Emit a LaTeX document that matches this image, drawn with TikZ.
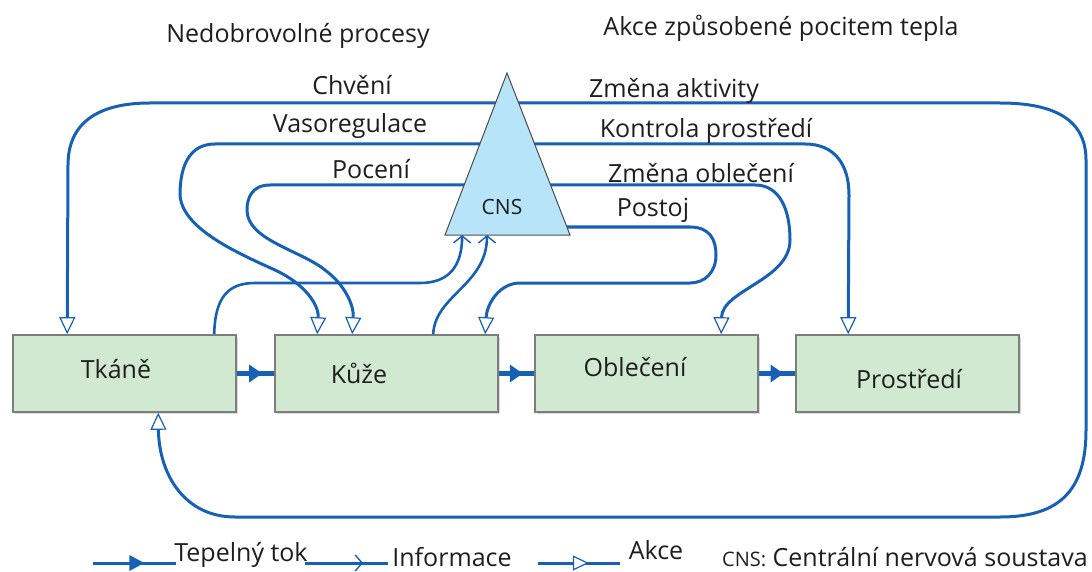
\documentclass[tikz,border=0pt]{standalone}
\usepackage{fontspec}
\setmainfont{Open Sans}
\usetikzlibrary{arrows.meta,decorations.markings,calc,shadows}
\definecolor{flow}{RGB}{22,96,182}
\definecolor{boxfill}{RGB}{209,233,209}
\definecolor{boxline}{RGB}{125,125,125}
\definecolor{cnsfill}{RGB}{183,228,249}
\definecolor{ink}{RGB}{30,30,30}
\begin{document}
\begin{tikzpicture}[x=1pt,y=-1pt,
  txt/.style={text=ink, font=\fontsize{25}{29}\selectfont, inner sep=0pt},
  small/.style={text=ink, font=\fontsize{21}{25}\selectfont, inner sep=0pt},
  stage/.style={draw=boxline, fill=boxfill, line width=1.6pt,
    minimum width=223pt, minimum height=77pt, inner sep=0pt,
    drop shadow={shadow xshift=1.5pt, shadow yshift=-2pt, fill=black!25, opacity=0.6}},
  conn/.style={draw=flow, line width=3pt},
  akcetip/.style={-{Triangle[fill=white, length=17pt, width=16pt, line width=1.2pt]}},
  akce/.style={conn, akcetip},
  info/.style={conn, line width=2.6pt, -{Straight Barb[length=7pt, width=17pt, line width=1.4pt]}},
  heat/.style={draw=flow, line width=5pt, postaction={decorate},
    decoration={markings, mark=at position #1 with {\arrow{Triangle[length=13pt,width=17pt]}}}},
  heat/.default=0.68,
  legheat/.style={draw=flow, line width=3pt, postaction={decorate},
    decoration={markings, mark=at position 0.62 with {\arrow{Triangle[length=15pt,width=15pt]}}}},
  leginfo/.style={draw=flow, line width=3pt, postaction={decorate},
    decoration={markings, mark=at position 0.7 with {\arrow{Straight Barb[length=7pt,width=16pt,line width=1.4pt]}}}},
  legakce/.style={draw=flow, line width=3pt, postaction={decorate},
    decoration={markings, mark=at position 0.62 with {\arrow{Triangle[fill=white,length=16pt,width=15pt,line width=1.2pt]}}}},
]
\useasboundingbox (0,0) rectangle (1092,572);

% stages of the heat path
\node[stage] (tk) at (124.5,373.5) {};
\node[stage] (ku) at (386.5,373.5) {};
\node[stage] (ob) at (646.5,373.5) {};
\node[stage] (pr) at (907.5,373.5) {};
\node[txt] (tkl) at (116,369) {Tkáně};
\node[txt] (kul) at (359,373) {Kůže};
\node[txt] (obl) at (635,367) {Oblečení};
\node[txt] (prl) at (909,379) {Prostředí};

% heat flow between stages
\draw[heat] (tk.east) -- (ku.west);
\draw[heat] (ku.east) -- (ob.west);
\draw[heat] (ob.east) -- (pr.west);

% CNS corners and the points where the control lines leave it
\coordinate (cA) at (507,73);
\coordinate (cL) at (445,235);
\coordinate (cR) at (570,235);
\coordinate (hub1) at (507,103);
\coordinate (hub2) at (507,144);
\coordinate (hub3) at (507,185);
\coordinate (hub4) at (507,227);

% involuntary actions (left)
\draw[akce] (hub1) -- (150,103) .. controls (95,103) and (68,125) .. (68,165)
  -- ($(tk.north west)+(55,0)$);
\draw[akce] (hub2) -- (215,144) .. controls (190,144) and (180,165) .. (180,195)
  .. controls (182,228) and (235,252) .. (275,270)
  .. controls (305,284) and (319,305) .. ($(ku.north west)+(43,0)$);
\draw[akce] (hub3) -- (270,185) .. controls (252,185) and (247,198) .. (247,210)
  .. controls (247,240) and (300,250) .. (325,270)
  .. controls (345,285) and (354,305) .. ($(ku.north west)+(78,0)$);

% behavioural actions (right)
\draw[akce] (hub1) -- (1000,103) .. controls (1055,103) and (1086,120) .. (1086,160)
  -- (1086,430) .. controls (1086,490) and (1060,517) .. (1000,517)
  -- (235,517) .. controls (185,517) and (159,475) .. ($(tk.south west)+(146,0)$);
\draw[akce] (hub2) -- (805,144) .. controls (835,144) and (849,165) .. (849,195)
  -- ($(pr.north west)+(53,0)$);
\draw[akce] (hub3) -- (755,185) .. controls (780,185) and (790,210) .. (790,240)
  .. controls (790,280) and (722,290) .. ($(ob.north west)+(187,0)$);
\draw[akce] (hub4) -- (690,227) .. controls (710,227) and (716,240) .. (716,255)
  .. controls (716,272) and (705,283) .. (690,283)
  -- (520,283) .. controls (500,283) and (487,303) .. ($(ku.north west)+(211,0)$);

% temperature information to the CNS
\draw[info] ($(tk.north west)+(202,0)$) .. controls (215,295) and (230,283) .. (255,283)
  -- (420,283) .. controls (450,283) and (462,265) .. ($(cL)!0.137!(cR)$);
\draw[info] ($(ku.north west)+(159,0)$) .. controls (435,295) and (487,285) .. ($(cL)!0.336!(cR)$);

% central nervous system
\draw[fill=cnsfill, draw=black!70, line width=1pt] (cL) -- (cA) -- (cR) -- cycle;
\node[small] (cnsl) at (502,207) {CNS};

% headings and line labels
\node[txt] (hin) at (298,36) {Nedobrovolné procesy};
\node[txt] (hbe) at (781,28) {Akce způsobené pocitem tepla};
\node[txt] (lch) at (352,85) {Chvění};
\node[txt] (lva) at (350,126) {Vasoregulace};
\node[txt] (lpo) at (371,169) {Pocení};
\node[txt] (lza) at (674,91) {Změna aktivity};
\node[txt] (lkp) at (706,131) {Kontrola prostředí};
\node[txt] (lzo) at (701,173) {Změna oblečení};
\node[txt] (lps) at (653,210) {Postoj};

% legend
\coordinate (g1a) at (93,563);  \coordinate (g1b) at (176,563);
\coordinate (g2a) at (305,563); \coordinate (g2b) at (388,563);
\coordinate (g3a) at (538,563); \coordinate (g3b) at (620,563);
\draw[legheat] (g1a) -- (g1b);
\draw[leginfo] (g2a) -- (g2b);
\draw[legakce] (g3a) -- (g3b);
\node[txt, anchor=base] (t1) at (241,561) {Tepelný tok};
\node[txt, anchor=base] (t2) at (452,566) {Informace};
\node[txt, anchor=base] (t3) at (656,559) {Akce};
\node[txt, anchor=base east] (t4) at (1088,566) {{\fontsize{20}{24}\selectfont CNS:} Centrální nervová soustava};
\end{tikzpicture}
\end{document}
